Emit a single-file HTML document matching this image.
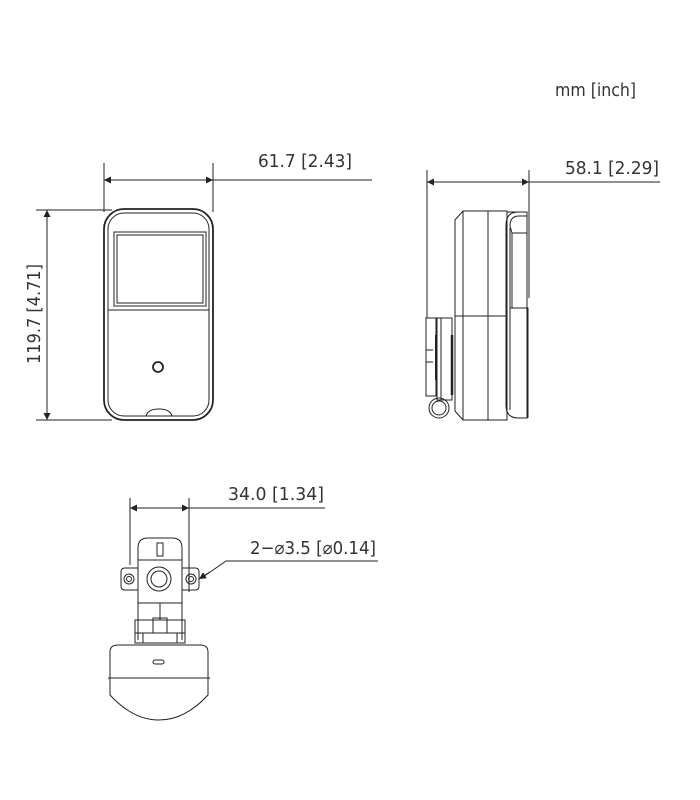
<!DOCTYPE html>
<html><head><meta charset="utf-8"><style>
html,body{margin:0;padding:0;background:#fff;}
svg{display:block}
text{font-family:"DejaVu Sans Condensed","Liberation Sans",sans-serif;fill:#333;font-size:18px}
</style></head><body>
<svg width="700" height="800" viewBox="0 0 700 800" xmlns="http://www.w3.org/2000/svg">
<defs>
<marker id="a" viewBox="0 0 10 10" refX="10" refY="5" markerWidth="11" markerHeight="7" orient="auto-start-reverse" markerUnits="userSpaceOnUse"><path d="M0,0 L10,5 L0,10 z" fill="#222"/></marker>
</defs>
<g stroke="#222" fill="none" stroke-width="1">
<text x="555" y="96" stroke="none" textLength="81" lengthAdjust="spacingAndGlyphs">mm [inch]</text>

<line x1="104" y1="163" x2="104" y2="212"/>
<line x1="213" y1="163" x2="213" y2="212"/>
<line x1="104" y1="180" x2="372" y2="180"/>
<line x1="106" y1="180" x2="104" y2="180" marker-end="url(#a)"/>
<line x1="211" y1="180" x2="213" y2="180" marker-end="url(#a)"/>
<text x="258" y="167" stroke="none" textLength="94" lengthAdjust="spacingAndGlyphs">61.7 [2.43]</text>
<line x1="36" y1="210" x2="112" y2="210"/>
<line x1="36" y1="420" x2="112" y2="420"/>
<line x1="47" y1="210" x2="47" y2="420" marker-start="url(#a)" marker-end="url(#a)"/>
<text x="0" y="0" stroke="none" transform="translate(40,364) rotate(-90)" textLength="100" lengthAdjust="spacingAndGlyphs">119.7 [4.71]</text>

<rect x="104" y="209" width="109" height="211" rx="20" stroke-width="1.8"/>
<rect x="108" y="213" width="101" height="203" rx="16"/>
<path d="M114,232 L206,232 L206,306 L114,306 Z"/>
<path d="M117,235 L203,235 L203,303 L117,303 Z"/>
<line x1="108" y1="310" x2="209" y2="310"/>
<circle cx="158" cy="367" r="5" stroke-width="1.8"/>
<path d="M146,416 Q148,409 159,409 Q170,409 172,416"/>

<line x1="427" y1="170" x2="427" y2="318"/>
<line x1="529" y1="170" x2="529" y2="298"/>
<line x1="427" y1="182" x2="660" y2="182"/>
<line x1="429" y1="182" x2="427" y2="182" marker-end="url(#a)"/>
<line x1="527" y1="182" x2="529" y2="182" marker-end="url(#a)"/>
<text x="565" y="174" stroke="none" textLength="94" lengthAdjust="spacingAndGlyphs">58.1 [2.29]</text>

<path d="M463,211 L507,211 L507,420 L463,420 L455,411 L455,220 Z"/>
<line x1="463" y1="211" x2="463" y2="420"/>
<line x1="488" y1="211" x2="488" y2="420"/>
<line x1="455" y1="316" x2="507" y2="316"/>
<path d="M507,212 L527,212 L527,418 L518,418 Q506,418 506,405 L506,225 Q506,212 518,212" />
<path d="M510,226 Q510,216 519,216 L527,216 L527,233 L512,233 Z"/>
<line x1="510" y1="228" x2="510" y2="410"/>
<path d="M510,308 L528,308 L528,418"/>
<line x1="512" y1="233" x2="512" y2="308"/>
<path d="M426,318 L436,318 L436,396 L426,396 Z"/>
<path d="M437,318 L452,318 L452,400 L437,400 Z"/>
<line x1="441" y1="318" x2="441" y2="400"/>
<line x1="426" y1="350" x2="433" y2="350"/><line x1="426" y1="362" x2="433" y2="362"/>
<line x1="436" y1="335" x2="436" y2="380" stroke-width="2"/>
<line x1="452" y1="335" x2="452" y2="395" stroke-width="2.5"/>
<circle cx="439" cy="408" r="10"/>
<circle cx="439" cy="408" r="7"/>

<line x1="130" y1="498" x2="130" y2="565"/>
<line x1="189" y1="498" x2="189" y2="592"/>
<line x1="130" y1="508" x2="325" y2="508"/>
<line x1="132" y1="508" x2="130" y2="508" marker-end="url(#a)"/>
<line x1="187" y1="508" x2="189" y2="508" marker-end="url(#a)"/>
<text x="228" y="500" stroke="none" textLength="96" lengthAdjust="spacingAndGlyphs">34.0 [1.34]</text>
<text x="250" y="554" stroke="none" textLength="126" lengthAdjust="spacingAndGlyphs">2−⌀3.5 [⌀0.14]</text>
<polyline points="378,561 226,561 203,577"/>
<line x1="210" y1="572" x2="199" y2="579" marker-end="url(#a)"/>

<path d="M138,640 L138,548 Q138,538 148,538 L172,538 Q182,538 182,548 L182,640"/>
<line x1="138" y1="560" x2="182" y2="560"/>
<line x1="138" y1="603" x2="182" y2="603"/>
<rect x="157" y="543" width="6" height="13"/>
<path d="M138,568 L125,568 Q121,568 121,572 L121,586 Q121,590 125,590 L138,590"/>
<path d="M182,568 L195,568 Q199,568 199,572 L199,586 Q199,590 195,590 L182,590"/>
<circle cx="129" cy="579" r="5"/><circle cx="129" cy="579" r="2.5"/>
<circle cx="191" cy="579" r="5"/><circle cx="191" cy="579" r="2.5"/>
<circle cx="159" cy="579" r="12"/>
<circle cx="159" cy="579" r="8"/>
<line x1="160" y1="603" x2="160" y2="620"/>
<path d="M135,620 L185,620 L185,643 L135,643 Z"/>
<rect x="153" y="618" width="14" height="15"/>
<line x1="135" y1="633" x2="185" y2="633"/>
<line x1="143" y1="633" x2="143" y2="643"/><line x1="177" y1="633" x2="177" y2="643"/>
<path d="M110,652 Q110,645 118,645 L200,645 Q208,645 208,652 L208,695 Q185,720 159,720 Q133,720 110,695 Z"/>
<line x1="108" y1="678" x2="210" y2="678"/>
<rect x="153" y="660" width="11" height="4" rx="2"/>
</g>
</svg>
</body></html>
